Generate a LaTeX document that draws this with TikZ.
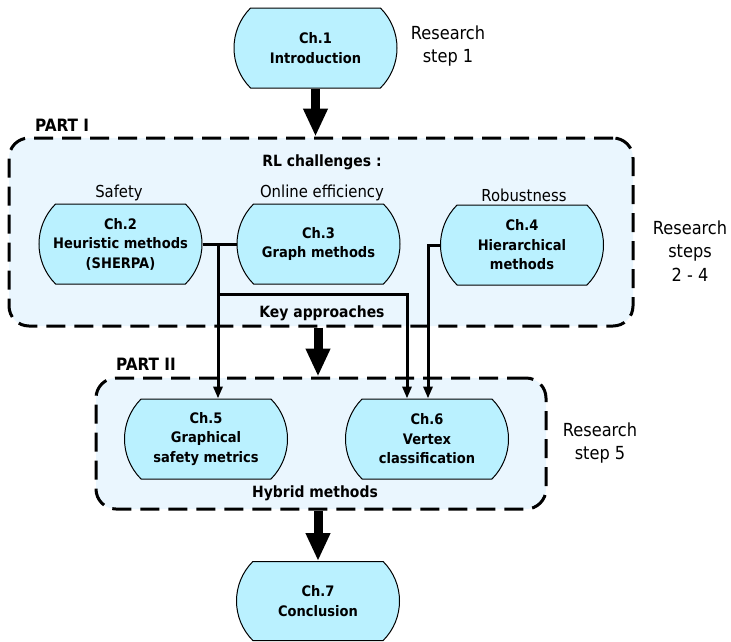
\documentclass[tikz,border=0pt]{standalone}
\usepackage{fontspec}
\setmainfont{DejaVu Sans Condensed}
\usetikzlibrary{shapes.misc,arrows.meta}
\definecolor{nodefill}{RGB}{186,241,255}
\definecolor{partfill}{RGB}{234,246,254}
\tikzset{
  chbox/.style={rounded rectangle, rounded rectangle arc length=90, draw=black, line width=1pt,
    fill=nodefill, minimum width=167pt, minimum height=80pt, inner sep=2pt, align=center,
    font=\bfseries\fontsize{14.5}{19.5}\selectfont},
  partbox/.style={draw=black, line width=3pt, dash pattern=on 19pt off 9pt, rounded corners=20pt,
    fill=partfill, inner sep=0pt},
  bigarrow/.style={line width=9pt, -{Triangle[width=23pt,length=28pt]}},
  thinarrow/.style={line width=3pt, -{Triangle[width=9pt,length=12pt]}},
  thinline/.style={line width=3pt},
  lbl/.style={font=\fontsize{16.5}{20}\selectfont, inner sep=0pt},
  rlbl/.style={font=\fontsize{18}{23.5}\selectfont, align=center, inner sep=0pt},
  blbl/.style={font=\bfseries\fontsize{15.5}{19}\selectfont, inner sep=0pt},
  partlbl/.style={font=\bfseries\fontsize{17}{19}\selectfont, inner sep=0pt}
}
\begin{document}
\begin{tikzpicture}[x=1pt,y=-1pt]
\useasboundingbox (0,0) rectangle (731,641);
% part boxes
\node[partbox, minimum width=624pt, minimum height=188pt] (p1) at (321,232) {};
\node[partbox, minimum width=450pt, minimum height=131pt] (p2) at (321,443.5) {};
% chapter nodes
\node[chbox] (ch1) at (315.5,48) {Ch.1\\Introduction};
\node[chbox] (ch2) at (120.5,244) {Ch.2\\Heuristic methods\\(SHERPA)};
\node[chbox] (ch3) at (318.5,244) {Ch.3\\Graph methods};
\node[chbox] (ch4) at (522,245) {Ch.4\\Hierarchical\\methods};
\node[chbox] (ch5) at (206,439) {Ch.5\\Graphical\\safety metrics};
\node[chbox] (ch6) at (427,439) {Ch.6\\Vertex\\classification};
\node[chbox, minimum height=79pt] (ch7) at (318,601) {Ch.7\\Conclusion};
% labels
\node[rlbl] (r1) at (448,46) {Research\\step 1};
\node[rlbl] (r2) at (690,251) {Research\\steps\\2 - 4};
\node[rlbl] (r3) at (600,443) {Research\\step 5};
\node[partlbl, anchor=west] (pI) at (35,125) {PART I};
\node[partlbl, anchor=west] (pII) at (116,364) {PART II};
\node[blbl] (rl) at (322,162) {RL challenges :};
\node[lbl] (s1) at (119,193) {Safety};
\node[lbl] (s2) at (322,193) {Online efficiency};
\node[lbl] (s3) at (524,195) {Robustness};
\node[blbl] (ka) at (322,313) {Key approaches};
\node[blbl] (hm) at (315,493) {Hybrid methods};
% coordinates
\coordinate (j1) at (218,244);
\coordinate (j2) at (218,294);
\coordinate (j3) at (407,294);
\coordinate (j4) at (428,245);
% thick arrows
\draw[bigarrow] (ch1.south) -- (ch1.south |- p1.north);
\draw[bigarrow] (ch7.north |- p1.south) -- (ch7.north |- p2.north);
\draw[bigarrow] (ch7.north |- p2.south) -- (ch7.north);
% connectors
\draw[thinline] (ch2.east) -- (ch3.west);
\draw[thinarrow] (j1) -- (j1 |- ch5.north);
\draw[thinarrow] (j2) -- (j3) -- (j3 |- ch6.north);
\draw[thinarrow] (ch4.west) -- (j4) -- (j4 |- ch6.north);
\end{tikzpicture}
\end{document}
